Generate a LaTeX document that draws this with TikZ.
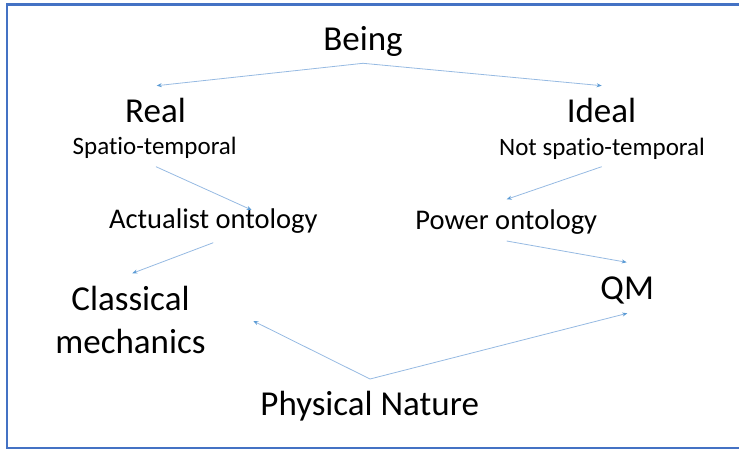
\documentclass[tikz,border=0pt]{standalone}
\usepackage{fontspec}
\setmainfont{Carlito}[Ligatures={NoCommon,NoRare}]
\usetikzlibrary{arrows.meta}
\definecolor{framecol}{HTML}{4472C4}
\definecolor{arrcol}{RGB}{150,186,226}
\definecolor{tipcol}{RGB}{91,155,213}
\tikzset{
  big/.style={anchor=base, inner sep=0pt, font=\fontsize{35}{43.3}\selectfont, align=center},
  mid/.style={anchor=base, inner sep=0pt, font=\fontsize{28.5}{34}\selectfont},
  small/.style={anchor=base, inner sep=0pt, font=\fontsize{25}{30}\selectfont},
  arr/.style={draw=arrcol, line width=0.8pt, -{Stealth[length=5pt,width=4pt,color=tipcol,fill=tipcol]}}
}
\begin{document}
\begin{tikzpicture}[x=1pt,y=1pt]
\useasboundingbox (0,0) rectangle (739,-449);
\clip (0,0) rectangle (739,-449);
\draw[framecol, line width=2.4pt] (760,-4.5) -- (7.2,-4.5) -- (7.2,-447.8) -- (760,-447.8);

\node[big] (being) at (363,-51) {Being};
\node[big] (real) at (155.5,-123) {Real};
\node[big] (ideal) at (601.5,-122.7) {Ideal};
\node[small] (spatio) at (154.7,-155) {Spatio-temporal};
\node[small] (notsp) at (602,-156) {Not spatio-temporal};
\node[mid] (actual) at (213.3,-228.3) {Actualist ontology};
\node[mid] (power) at (506.3,-229.3) {Power ontology};
\node[big] (classic) at (130.5,-353.3) {Classical\\mechanics};
\node[big] (qm) at (627.2,-299.3) {QM};
\node[big] (phys) at (369.7,-415) {Physical Nature};

\draw[arr] ([yshift=-12.3pt]being.base) -- ([xshift=1.2pt,yshift=37.3pt]real.base);
\draw[arr] ([yshift=-12.3pt]being.base) -- ([xshift=0.2pt,yshift=37pt]ideal.base);
\draw[arr] ([xshift=1.3pt,yshift=-11.7pt]spatio.base) -- ([xshift=38.4pt,yshift=18.3pt]actual.base);
\draw[arr] ([yshift=-14.4pt]actual.base) -- ([xshift=1.8pt,yshift=80pt]classic.base);
\draw[arr] ([xshift=-0.3pt,yshift=-10.7pt]notsp.base) -- ([xshift=0.4pt,yshift=30pt]power.base);
\draw[arr] ([xshift=0.4pt,yshift=-11.7pt]power.base) -- ([xshift=-0.5pt,yshift=37pt]qm.base);
\draw[arr] ([xshift=0.3pt,yshift=36pt]phys.base) -- ([xshift=122.8pt,yshift=32.3pt]classic.base);
\draw[arr] ([xshift=0.3pt,yshift=36pt]phys.base) -- ([xshift=0.1pt,yshift=-14pt]qm.base);
\end{tikzpicture}
\end{document}
